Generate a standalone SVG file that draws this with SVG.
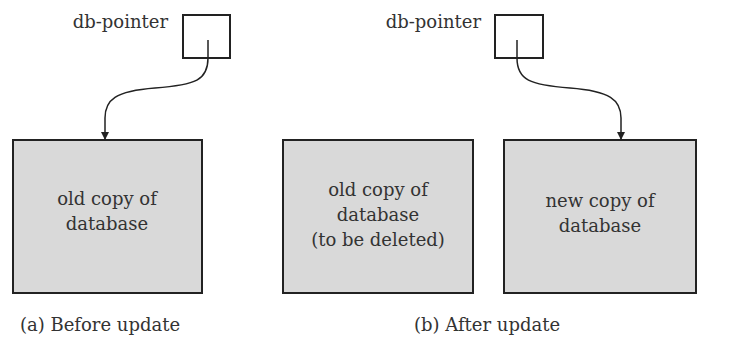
<svg xmlns="http://www.w3.org/2000/svg" width="745" height="343" viewBox="0 0 745 343">
  <defs>
    <style>
      .lbl { font-family: "DejaVu Serif", "Liberation Serif", serif; font-size: 18px; fill: #333; }
      .mid { text-anchor: middle; }
      .db { fill: #d9d9d9; stroke: #222; stroke-width: 2; }
      .ptr { fill: #fff; stroke: #222; stroke-width: 2; }
      .link { fill: none; stroke: #222; stroke-width: 1.5; }
    </style>
    <marker id="arrow" viewBox="0 0 8 8" refX="8" refY="4" markerWidth="8" markerHeight="8" markerUnits="userSpaceOnUse" orient="auto">
      <path d="M0,0 L8,4 L0,8 Z" fill="#222"/>
    </marker>
  </defs>
  <rect width="745" height="343" fill="#fff"/>

  <!-- (a) before update -->
  <g id="ptr-a">
    <text class="lbl" x="168" y="28" text-anchor="end">db-pointer</text>
    <rect class="ptr" x="183" y="15" width="47" height="43"/>
  </g>
  <g id="old-db-a">
    <rect class="db" x="13" y="140" width="189" height="153"/>
    <text class="lbl mid" x="107" y="205">old copy of</text>
    <text class="lbl mid" x="107" y="230">database</text>
  </g>
  <text class="lbl mid" x="100" y="331">(a) Before update</text>

  <!-- (b) after update -->
  <g id="ptr-b">
    <text class="lbl" x="481" y="28" text-anchor="end">db-pointer</text>
    <rect class="ptr" x="495" y="15" width="48" height="43"/>
  </g>
  <g id="old-db-b">
    <rect class="db" x="283" y="140" width="190" height="153"/>
    <text class="lbl mid" x="378" y="196">old copy of</text>
    <text class="lbl mid" x="378" y="221">database</text>
    <text class="lbl mid" x="378" y="246">(to be deleted)</text>
  </g>
  <g id="new-db-b">
    <rect class="db" x="504" y="140" width="192" height="153"/>
    <text class="lbl mid" x="600" y="207">new copy of</text>
    <text class="lbl mid" x="600" y="232">database</text>
  </g>
  <text class="lbl mid" x="487" y="331">(b) After update</text>

  <g id="connectors">
    <path class="link" marker-end="url(#arrow)" d="M208,40 L208,58 C208,80 196,85 155,88 C115,91 105,100 105,118 L105,140"/>
    <path class="link" marker-end="url(#arrow)" d="M517,40 L517,58 C517,80 530,85 570,88 C610,91 621,100 621,118 L621,140"/>
  </g>
</svg>
